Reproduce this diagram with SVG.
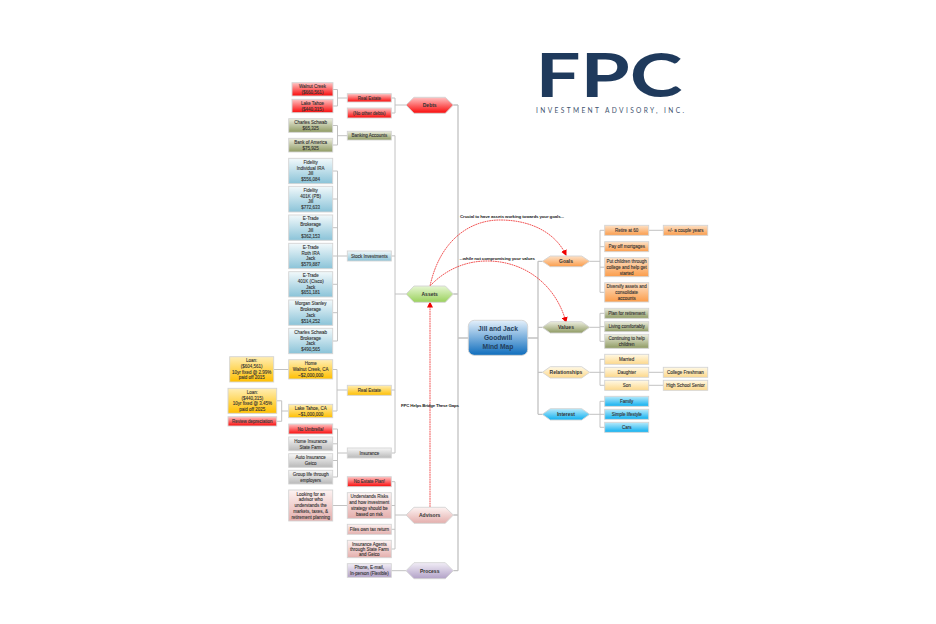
<svg xmlns="http://www.w3.org/2000/svg" width="936" height="624" viewBox="0 0 936 624">
<defs>
<linearGradient id="red" x1="0" y1="0" x2="0" y2="1"><stop offset="0" stop-color="#ffc4c4"/><stop offset=".9" stop-color="#fa1c1c"/></linearGradient>
<linearGradient id="olive" x1="0" y1="0" x2="0" y2="1"><stop offset="0" stop-color="#ecedde"/><stop offset="1" stop-color="#8e9a62"/></linearGradient>
<linearGradient id="blue" x1="0" y1="0" x2="0" y2="1"><stop offset="0" stop-color="#f2f9fb"/><stop offset="1" stop-color="#8ac3d8"/></linearGradient>
<linearGradient id="gold" x1="0" y1="0" x2="0" y2="1"><stop offset="0" stop-color="#ffeeb5"/><stop offset="1" stop-color="#ffbf00"/></linearGradient>
<linearGradient id="gray" x1="0" y1="0" x2="0" y2="1"><stop offset="0" stop-color="#f7f7f7"/><stop offset="1" stop-color="#b9b9b9"/></linearGradient>
<linearGradient id="pink" x1="0" y1="0" x2="0" y2="1"><stop offset="0" stop-color="#fdf3f2"/><stop offset="1" stop-color="#e4aeac"/></linearGradient>
<linearGradient id="purple" x1="0" y1="0" x2="0" y2="1"><stop offset="0" stop-color="#f1edf6"/><stop offset="1" stop-color="#b2a1c7"/></linearGradient>
<linearGradient id="orange" x1="0" y1="0" x2="0" y2="1"><stop offset="0" stop-color="#fde2c8"/><stop offset="1" stop-color="#fb9c4a"/></linearGradient>
<linearGradient id="cream" x1="0" y1="0" x2="0" y2="1"><stop offset="0" stop-color="#fff9e6"/><stop offset="1" stop-color="#fdd88a"/></linearGradient>
<linearGradient id="cyan" x1="0" y1="0" x2="0" y2="1"><stop offset="0" stop-color="#b8eafb"/><stop offset="1" stop-color="#0fb0f0"/></linearGradient>
<linearGradient id="green" x1="0" y1="0" x2="0" y2="1"><stop offset="0" stop-color="#e6f6d2"/><stop offset="1" stop-color="#9ad15c"/></linearGradient>
<linearGradient id="core" x1="0" y1="0" x2="0" y2="1"><stop offset="0" stop-color="#e4f0fb"/><stop offset="1" stop-color="#0e6dbd"/></linearGradient>
<marker id="ah" markerUnits="userSpaceOnUse" markerWidth="6" markerHeight="6" refX="5" refY="3" orient="auto"><path d="M0 0L6 3L0 6Z" fill="#f00000"/></marker>
</defs>
<style>
rect,polygon{stroke:#d4d4d4;stroke-width:.9}
text{font-family:"Liberation Sans",Arial,sans-serif;font-size:4.5px;fill:#333;stroke:#333;stroke-width:.1;text-anchor:middle}
.h{font-size:5px;font-weight:bold;stroke-width:0}
.n{font-weight:bold;font-size:4.4px;fill:#222;stroke-width:0;text-anchor:start}
.c{font-size:6.7px;font-weight:bold;fill:#24405c;stroke-width:0}
.r{fill:url(#red)}.o{fill:url(#olive)}.b{fill:url(#blue)}.g{fill:url(#gold)}.y{fill:url(#gray)}.p{fill:url(#pink)}.u{fill:url(#purple)}.a{fill:url(#orange)}.e{fill:url(#cream)}.w{fill:url(#cyan)}.v{fill:url(#green)}
#connectors path{fill:none;stroke:#c2c2c2;stroke-width:1}
#connectors .t{stroke-width:1.3}
#arrows path{fill:none;stroke:#ee2a2a;stroke-width:.8;stroke-dasharray:1.8 .6;marker-end:url(#ah)}
</style>
<g id="logo"><text x="609" y="97" style="font-family:Lato,sans-serif;font-size:62px;font-weight:700;fill:#1f3a5c;stroke-width:0" textLength="147" lengthAdjust="spacingAndGlyphs">FPC</text><text x="610" y="113" style="font-family:Lato,sans-serif;font-size:6.6px;fill:#3f5470;stroke-width:0" textLength="148">INVESTMENT ADVISORY, INC.</text></g>
<g id="connectors">
<path class="t" d="M458 105V570.700M453.300 105H458M453.300 294H458M453.300 515H458M453.300 570.700H458M458 338H468.300M527.700 338H538M538 261.300V414.300M538 261.300H542.300M538 327.300H542.300M538 372.300H542.300M538 414.300H542.300"/>
<path d="M395 98V113M391.300 98H395M391.300 113H395M395 105H406"/>
<path d="M395 135.700V453M391.300 135.700H395M391.300 256H395M391.300 390H395M391.300 453H395M395 294H406"/>
<path d="M395 481.700V549M391.300 481.700H395M391.300 505.500H395M391.300 529.300H395M391.300 549H395M395 515H406M391.300 570.700H406"/>
<path d="M337.500 89.500V106M333 89.500H337.500M333 106H337.500M337.500 98H347.300"/>
<path d="M337.500 125.500V145M332.700 125.500H337.500M332.700 145H337.500M337.500 135.700H347.300"/>
<path d="M337.500 171V341M332.700 171H337.500M332.700 199H337.500M332.700 227.700H337.500M332.700 256H337.500M332.700 284.300H337.500M332.700 312.700H337.500M332.700 341H337.500M337.500 256H347.300"/>
<path d="M337 369.500V411M332.700 369.500H337M332.700 411H337M337 390H347.300M273.700 369.500H288.700M276.700 400.800H281.700V421.300H276.700M281.700 411H288.700"/>
<path d="M337.500 429V477M332.700 429H337.500M332.700 443.800H337.500M332.700 460.500H337.500M332.700 477H337.500M337.500 453H347.300M332.700 505.500H347.300"/>
<path d="M589.700 261.300H600M600 230.300V292.300M600 230.300H604.700M600 246.700H604.700M600 267.200H604.700M600 292.300H604.700M648.700 230.300H663.300"/>
<path d="M589.700 327.300H600M600 313.300V341.300M600 313.300H604.700M600 326.700H604.700M600 341.300H604.700"/>
<path d="M589.700 372.300H600M600 359.300V385.300M600 359.300H604.700M600 372.300H604.700M600 385.300H604.700M648.700 372.300H663.300M648.700 385.300H663.300"/>
<path d="M589.700 414.300H600M600 401.300V427.300M600 401.300H604.700M600 414.300H604.700M600 427.300H604.700"/>
</g>
<g id="arrows">
<path d="M430 286C440 240 470 220 500 220C530 220 555 232 566 255"/>
<path d="M430 286C445 270 465 261 487 261C525 261 556 285 566 322"/>
<path d="M430 507V302.500"/>
</g>
<g id="center"><rect x="468.300" y="320.300" width="59.400" height="35" rx="6" fill="url(#core)"/><text class="c" x="498" y="331">Jill and Jack</text><text class="c" x="498" y="340">Goodwill</text><text class="c" x="498" y="349">Mind Map</text></g>
<g id="debts"><polygon class="r" points="406,105 414,97.300 445.300,97.300 453.300,105 445.300,113.300 414,113.300"/><text class="h" x="429.700" y="107">Debts</text></g>
<g id="assets"><polygon class="v" points="406,294 414,286 445.300,286 453.300,294 445.300,302.300 414,302.300"/><text class="h" x="429.700" y="296">Assets</text></g>
<g id="advisors"><polygon class="p" points="406,515 414,507.300 445.300,507.300 453.300,515 445.300,523.300 414,523.300"/><text class="h" x="429.700" y="517">Advisors</text></g>
<g id="process"><polygon class="u" points="406,570.700 414,562.700 445.300,562.700 453.300,570.700 445.300,578.700 414,578.700"/><text class="h" x="429.700" y="572.700">Process</text></g>
<g id="goals"><polygon class="a" points="542.300,261.300 550.300,256 581.700,256 589.700,261.300 581.700,266.700 550.300,266.700"/><text class="h" x="566" y="263.200">Goals</text></g>
<g id="values"><polygon class="o" points="542.300,327.300 550.300,321.700 581.700,321.700 589.700,327.300 581.700,333 550.300,333"/><text class="h" x="566" y="329.200">Values</text></g>
<g id="relationships"><polygon class="e" points="542.300,372.300 550.300,366.700 581.700,366.700 589.700,372.300 581.700,378 550.300,378"/><text class="h" x="566" y="374.200">Relationships</text></g>
<g id="interest"><polygon class="w" points="542.300,414.300 550.300,408.700 581.700,408.700 589.700,414.300 581.700,420 550.300,420"/><text class="h" x="566" y="416.200">Interest</text></g>
<g id="n1"><rect class="r" x="292" y="82.700" width="41" height="13.300"/><text x="312.500" y="88">Walnut Creek</text><text x="312.500" y="94">($660,561)</text></g>
<g id="n2"><rect class="r" x="292" y="99.300" width="41" height="13.400"/><text x="312.500" y="104.700">Lake Tahoe</text><text x="312.500" y="110.700">($440,315)</text></g>
<g id="n3"><rect class="r" x="347.300" y="93.700" width="44" height="8.300"/><text x="369.300" y="99.600">Real Estate</text></g>
<g id="n4"><rect class="r" x="347.300" y="108" width="44" height="10"/><text x="369.300" y="114.700">(No other debts)</text></g>
<g id="n5"><rect class="o" x="288.700" y="118.700" width="44" height="13.600"/><text x="310.700" y="124.300">Charles Schwab</text><text x="310.700" y="130.200">$65,325</text></g>
<g id="n6"><rect class="o" x="288.700" y="138.300" width="44" height="13.700"/><text x="310.700" y="144">Bank of America</text><text x="310.700" y="149.800">$75,925</text></g>
<g id="n7"><rect class="o" x="347.300" y="131.300" width="44" height="8.700"/><text x="369.300" y="137.400">Banking Accounts</text></g>
<g id="n8"><rect class="b" x="288.700" y="158.300" width="44" height="25.400"/><text x="310.700" y="163.700">Fidelity</text><text x="310.700" y="169.500">Individual IRA</text><text x="310.700" y="175.300">Jill</text><text x="310.700" y="181.100">$556,084</text></g>
<g id="n9"><rect class="b" x="288.700" y="186.300" width="44" height="25.700"/><text x="310.700" y="191.800">Fidelity</text><text x="310.700" y="197.600">401K (PB)</text><text x="310.700" y="203.400">Jill</text><text x="310.700" y="209.200">$772,633</text></g>
<g id="n10"><rect class="b" x="288.700" y="215" width="44" height="25.300"/><text x="310.700" y="220.300">E-Trade</text><text x="310.700" y="226.100">Brokerage</text><text x="310.700" y="231.900">Jill</text><text x="310.700" y="237.700">$362,153</text></g>
<g id="n11"><rect class="b" x="288.700" y="243.300" width="44" height="25.400"/><text x="310.700" y="248.700">E-Trade</text><text x="310.700" y="254.500">Roth IRA</text><text x="310.700" y="260.300">Jack</text><text x="310.700" y="266.100">$579,887</text></g>
<g id="n12"><rect class="b" x="288.700" y="271.700" width="44" height="25.300"/><text x="310.700" y="277">E-Trade</text><text x="310.700" y="282.800">401K (Cisco)</text><text x="310.700" y="288.600">Jack</text><text x="310.700" y="294.400">$651,181</text></g>
<g id="n13"><rect class="b" x="288.700" y="300" width="44" height="25.300"/><text x="310.700" y="305.400">Morgan Stanley</text><text x="310.700" y="311.200">Brokerage</text><text x="310.700" y="317">Jack</text><text x="310.700" y="322.800">$514,252</text></g>
<g id="n14"><rect class="b" x="288.700" y="328.300" width="44" height="25.400"/><text x="310.700" y="333.700">Charles Schwab</text><text x="310.700" y="339.500">Brokerage</text><text x="310.700" y="345.300">Jack</text><text x="310.700" y="351.100">$490,565</text></g>
<g id="n15"><rect class="b" x="347.300" y="251" width="44" height="10"/><text x="369.300" y="257.600">Stock Investments</text></g>
<g id="n16"><rect class="g" x="229.700" y="356.700" width="44" height="25.300"/><text x="251.700" y="362">Loan:</text><text x="251.700" y="367.800">($604,561)</text><text x="251.700" y="373.600">10yr fixed @ 2.99%</text><text x="251.700" y="379.400">paid off 2015</text></g>
<g id="n17"><rect class="g" x="288.700" y="359.700" width="44" height="19.300"/><text x="310.700" y="365.200">Home</text><text x="310.700" y="371">Walnut Creek, CA</text><text x="310.700" y="376.800">~$2,000,000</text></g>
<g id="n18"><rect class="g" x="228" y="388.300" width="48.700" height="25"/><text x="252.300" y="393.700">Loan:</text><text x="252.300" y="399.500">($440,315)</text><text x="252.300" y="405.300">10yr fixed @ 3.45%</text><text x="252.300" y="411.100">paid off 2025</text></g>
<g id="n19"><rect class="g" x="288.700" y="404.300" width="44" height="13.400"/><text x="310.700" y="409.900">Lake Tahoe, CA</text><text x="310.700" y="415.700">~$1,000,000</text></g>
<g id="n20"><rect class="g" x="347.300" y="385.300" width="44" height="10"/><text x="369.300" y="392">Real Estate</text></g>
<g id="n21"><rect class="r" x="228" y="416.700" width="48.700" height="9.300"/><text x="252.300" y="423.200">Review depreciation</text></g>
<g id="n22"><rect class="r" x="288.700" y="424" width="44" height="10"/><text x="310.700" y="430.700">No Umbrella!</text></g>
<g id="n23"><rect class="y" x="288.700" y="437" width="44" height="13.700"/><text x="310.700" y="442.700">Home Insurance</text><text x="310.700" y="448.500">State Farm</text></g>
<g id="n24"><rect class="y" x="288.700" y="453.700" width="44" height="13.600"/><text x="310.700" y="459.400">Auto Insurance</text><text x="310.700" y="465.200">Geico</text></g>
<g id="n25"><rect class="y" x="288.700" y="470.300" width="44" height="13.700"/><text x="310.700" y="476">Group life through</text><text x="310.700" y="481.800">employers</text></g>
<g id="n26"><rect class="y" x="347.300" y="448" width="44" height="10"/><text x="369.300" y="454.700">Insurance</text></g>
<g id="n27"><rect class="p" x="288.700" y="490" width="44" height="31"/><text x="310.700" y="495.500">Looking for an</text><text x="310.700" y="501.300">advisor who</text><text x="310.700" y="507.100">understands the</text><text x="310.700" y="512.900">markets, taxes, &amp;</text><text x="310.700" y="518.700">retirement planning</text></g>
<g id="n28"><rect class="r" x="347.300" y="476.700" width="44" height="10"/><text x="369.300" y="483.400">No Estate Plan!</text></g>
<g id="n29"><rect class="p" x="347.300" y="492.700" width="44" height="25.600"/><text x="369.300" y="498.200">Understands Risks</text><text x="369.300" y="504">and how investment</text><text x="369.300" y="509.800">strategy should be</text><text x="369.300" y="515.600">based on risk</text></g>
<g id="n30"><rect class="p" x="347.300" y="524.300" width="44" height="10"/><text x="369.300" y="531">Files own tax return</text></g>
<g id="n31"><rect class="p" x="347.300" y="540.300" width="44" height="17.400"/><text x="369.300" y="545.500">Insurance Agents</text><text x="369.300" y="550.700">through State Farm</text><text x="369.300" y="555.900">and Geico</text></g>
<g id="n32"><rect class="u" x="347.300" y="563.700" width="44" height="13.600"/><text x="369.300" y="569.400">Phone, E-mail,</text><text x="369.300" y="575.200">In-person (Flexible)</text></g>
<g id="n33"><rect class="a" x="604.700" y="225.300" width="44" height="10"/><text x="626.700" y="232">Retire at 60</text></g>
<g id="n34"><rect class="a" x="663.300" y="225.300" width="44.400" height="10"/><text x="685.500" y="232">+/- a couple years</text></g>
<g id="n35"><rect class="a" x="604.700" y="241.700" width="44" height="10"/><text x="626.700" y="248.400">Pay off mortgages</text></g>
<g id="n36"><rect class="a" x="604.700" y="257.700" width="44" height="19"/><text x="626.700" y="263">Put children through</text><text x="626.700" y="268.800">college and help get</text><text x="626.700" y="274.600">started</text></g>
<g id="n37"><rect class="a" x="604.700" y="282.700" width="44" height="19.300"/><text x="626.700" y="288.200">Diversify assets and</text><text x="626.700" y="294">consolidate</text><text x="626.700" y="299.800">accounts</text></g>
<g id="n38"><rect class="o" x="604.700" y="308.300" width="44" height="10"/><text x="626.700" y="315">Plan for retirement</text></g>
<g id="n39"><rect class="o" x="604.700" y="321.700" width="44" height="10"/><text x="626.700" y="328.400">Living comfortably</text></g>
<g id="n40"><rect class="o" x="604.700" y="334.300" width="44" height="14"/><text x="626.700" y="340">Continuing to help</text><text x="626.700" y="345.800">children</text></g>
<g id="n41"><rect class="e" x="604.700" y="354.300" width="44" height="10"/><text x="626.700" y="361">Married</text></g>
<g id="n42"><rect class="e" x="604.700" y="367.300" width="44" height="10"/><text x="626.700" y="374">Daughter</text></g>
<g id="n43"><rect class="e" x="604.700" y="380.300" width="44" height="10"/><text x="626.700" y="387">Son</text></g>
<g id="n44"><rect class="e" x="663.300" y="367.300" width="44.400" height="10"/><text x="685.500" y="374">College Freshman</text></g>
<g id="n45"><rect class="e" x="663.300" y="380.300" width="44.400" height="10"/><text x="685.500" y="387">High School Senior</text></g>
<g id="n46"><rect class="w" x="604.700" y="396.300" width="44" height="10"/><text x="626.700" y="403">Family</text></g>
<g id="n47"><rect class="w" x="604.700" y="409.300" width="44" height="10"/><text x="626.700" y="416">Simple lifestyle</text></g>
<g id="n48"><rect class="w" x="604.700" y="422.300" width="44" height="10"/><text x="626.700" y="429">Cars</text></g>
<g id="labels"><text class="n" x="460" y="217.700" textLength="104">Crucial to have assets working towards your goals...</text><text class="n" x="459.500" y="259.500" textLength="75.500">...while not compromising your values</text><text class="n" x="401" y="406.500" textLength="58">FPC Helps Bridge These Gaps</text></g>
</svg>
